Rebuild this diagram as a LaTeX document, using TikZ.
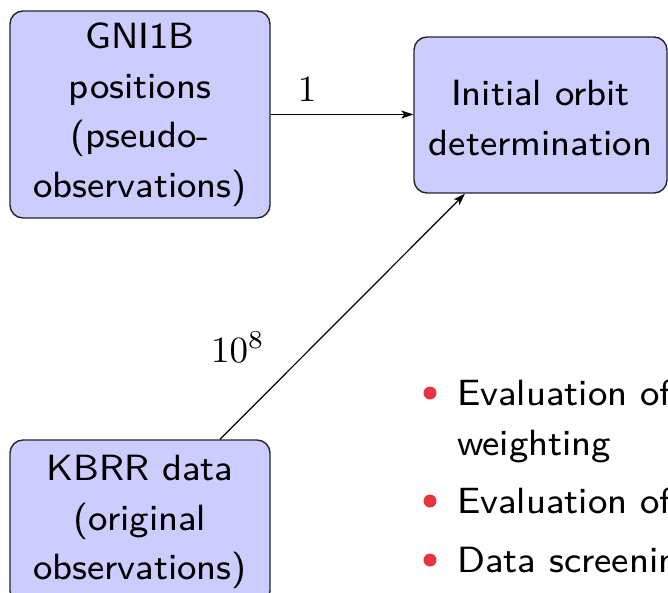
\documentclass[tikz,border=0pt]{standalone}
\usepackage{fontspec}
\setsansfont{lmsans8-regular.otf}
\usetikzlibrary{arrows.meta}
\definecolor{boxfill}{RGB}{204,204,255}
\definecolor{bulletred}{RGB}{230,52,64}
\begin{document}
\begin{tikzpicture}[x=1pt,y=-1pt,
  box/.style={draw=black!85, line width=1.4pt, fill=boxfill, rounded corners=13pt,
    align=center, font=\sffamily\fontsize{36.5}{49.5}\selectfont, inner sep=0pt},
  arr/.style={-{Stealth[length=12pt,width=8pt,inset=3pt]}, line width=1.2pt},
  lbl/.style={inner sep=0pt, scale=3.7},
  itemtxt/.style={font=\sffamily\fontsize{36.5}{49.5}\selectfont, inner sep=0pt, anchor=base west},
  dot/.style={circle, fill=bulletred, inner sep=0pt, minimum size=13pt}]
\useasboundingbox (0,0) rectangle (668,592);
\clip (0,0) rectangle (668,592);

\node[box, minimum width=260, minimum height=207] (g) at (140,114.5)
  {GNI1B\\positions\\(pseudo-\\observations)};
\node[box, minimum width=253, minimum height=156] (io) at (540.5,115)
  {\rule{0pt}{31.5pt}Initial orbit\\determination};
\node[box, minimum width=260, minimum height=164] (k) at (140,522)
  {KBRR data\\(original\\observations)};

\draw[arr] (g.east) -- (g.east -| io.west);
\draw[arr] ([xshift=80pt]k.north) -- ([xshift=-75.5pt]io.south);

\node[lbl, anchor=base] (w1) at (307,101) {$1$};
\node[lbl, anchor=base] (w2) at (238,362) {$10^8$};

\node[dot] (d1) at (430,393) {};
\node[dot] (d2) at (430,501) {};
\node[dot] (d3) at (430,560) {};
\node[itemtxt] (t1) at (457,405) {Evaluation of};
\node[itemtxt] (t1b) at (457,455) {weighting};
\node[itemtxt] (t2) at (457,513) {Evaluation of};
\node[itemtxt] (t3) at (457,572) {Data screening};
\end{tikzpicture}
\end{document}
